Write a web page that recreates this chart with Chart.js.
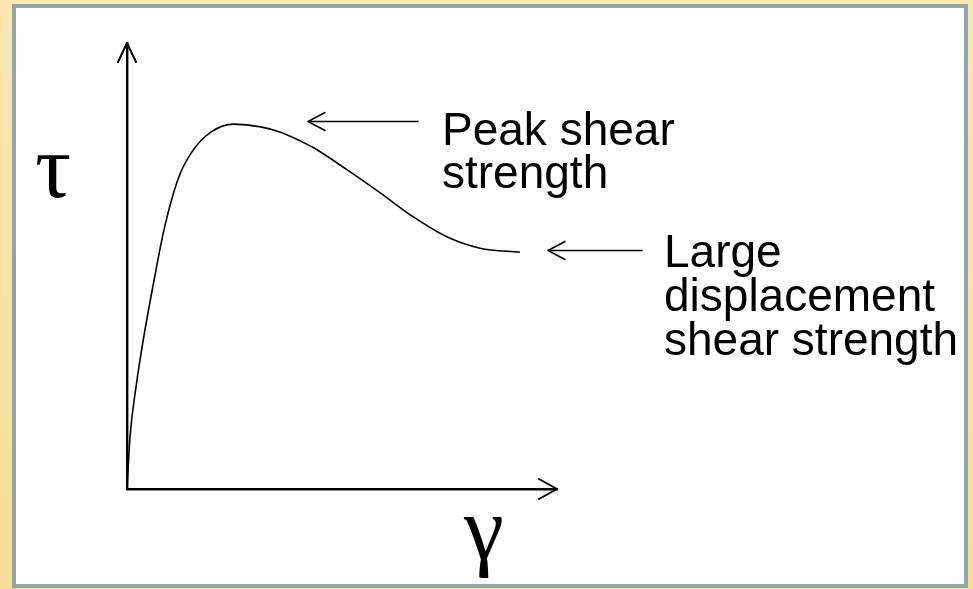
<!DOCTYPE html>
<html>
<head>
<meta charset="utf-8">
<script src="https://cdn.jsdelivr.net/npm/chart.js@4/dist/chart.umd.min.js"></script>
<style>
    html, body {
        margin: 0;
        padding: 0;
        width: 973px;
        height: 589px;
        overflow: hidden;
        background: linear-gradient(180deg, #fbe7b3 0%, #fae2a6 50%, #f7db98 100%);
    }
    #panel {
        position: absolute;
        left: 12px;
        top: 4px;
        width: 948px;
        height: 576px;
        background: #ffffff;
        border: 4px solid #8fa7a8;
    }
    #wrap {
        position: absolute;
        left: 0;
        top: 0;
        width: 973px;
        height: 589px;
    }
</style>
</head>
<body>
<div id="panel"></div>
<div id="wrap"><canvas id="curveChart" width="973" height="589"></canvas></div>

<script>
// shear strain (gamma) and shear stress (tau), arbitrary units
const strain = [0, 0.7, 2.1, 3.9, 6.0, 8.6, 11.8, 14.9, 19.5, 24.8, 31.1, 35.7, 40.4, 43.4, 51.3, 58.9, 66.6, 74.5, 82.1, 91.4];
const stress = [0, 11.7, 22.9, 34.1, 45.3, 58.1, 69.3, 75.3, 80.0, 81.8, 81.2, 80.0, 78.0, 76.5, 71.5, 66.4, 61.0, 56.5, 54.0, 53.1];

const xLabel = 'γ';
const yLabel = 'τ';
const peakLabel = ['Peak shear', 'strength'];
const residualLabel = ['Large', 'displacement', 'shear strength'];

document.addEventListener("DOMContentLoaded", function () {

    const ctx = document.getElementById("curveChart").getContext("2d");

    const points = strain.map((g, i) => ({ x: g, y: stress[i] }));

    // arrowheads on the axes plus the text labels and pointer arrows
    const sketchPlugin = {
        id: 'sketch',
        afterDraw(chart) {
            const c = chart.ctx;
            const a = chart.chartArea;
            c.save();
            c.strokeStyle = '#000';
            c.fillStyle = '#000';
            c.lineCap = 'round';
            c.lineJoin = 'round';

            // axis arrowheads
            c.lineWidth = 2;
            c.beginPath();
            c.moveTo(a.left - 9, a.top + 19);
            c.lineTo(a.left, a.top);
            c.lineTo(a.left + 9, a.top + 19);
            c.moveTo(a.right - 18, a.bottom - 10);
            c.lineTo(a.right, a.bottom);
            c.lineTo(a.right - 18, a.bottom + 10);
            c.stroke();

            // pointer arrows
            c.lineWidth = 1.5;
            c.beginPath();
            c.moveTo(418, 121.5);
            c.lineTo(308, 121.5);
            c.moveTo(325, 112.5);
            c.lineTo(308, 121.5);
            c.lineTo(325, 130.5);
            c.moveTo(642, 250.5);
            c.lineTo(548, 250.5);
            c.moveTo(565, 241.5);
            c.lineTo(548, 250.5);
            c.lineTo(565, 259.5);
            c.stroke();

            // labels
            c.textBaseline = 'alphabetic';
            c.font = '46px "Liberation Sans", Arial, sans-serif';
            peakLabel.forEach((t, i) => c.fillText(t, 442, 145 + i * 43));
            residualLabel.forEach((t, i) => c.fillText(t, 664, 267 + i * 44));

            c.font = '90px "Liberation Serif", "Times New Roman", serif';
            c.fillText(yLabel, 35, 197);
            c.fillText(xLabel, 464, 559);

            c.restore();
        }
    };

    new Chart(ctx, {
        type: 'line',
        data: {
            datasets: [{
                data: points,
                borderColor: '#000',
                borderWidth: 1.6,
                pointRadius: 0,
                fill: false,
                cubicInterpolationMode: 'monotone'
            }]
        },
        options: {
            responsive: false,
            animation: false,
            layout: {
                padding: { left: 119, right: 416, top: 43, bottom: 92 }
            },
            scales: {
                x: {
                    type: 'linear',
                    min: 0,
                    max: 100,
                    grid: { display: false },
                    ticks: { display: false },
                    border: { display: true, color: '#000', width: 2.4 }
                },
                y: {
                    type: 'linear',
                    min: 0,
                    max: 100,
                    grid: { display: false },
                    ticks: { display: false },
                    border: { display: true, color: '#000', width: 2.4 }
                }
            },
            plugins: {
                legend: { display: false },
                tooltip: { enabled: false }
            }
        },
        plugins: [sketchPlugin]
    });

});
</script>
</body>
</html>
